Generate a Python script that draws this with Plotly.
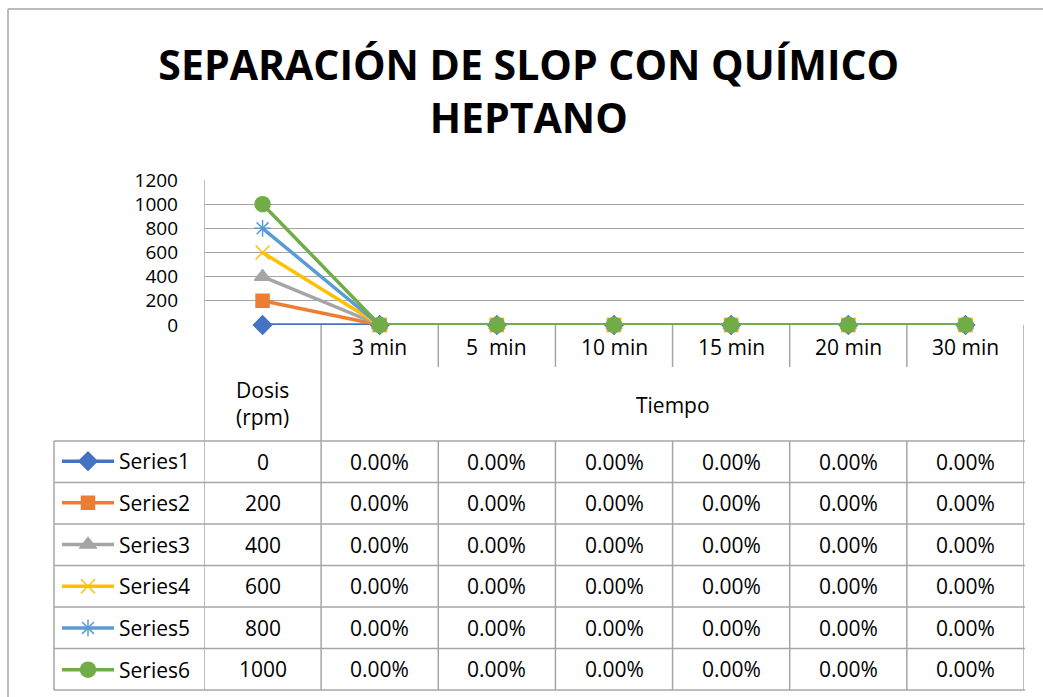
import plotly.graph_objects as go

W, H = 1043, 697

# ---------------- data ----------------
time_labels = ["3 min", "5\u00a0 min", "10 min", "15 min", "20 min", "30 min"]
dosis_header = "Dosis<br>(rpm)"
time_header = "Tiempo"
series_names = ["Series1", "Series2", "Series3", "Series4", "Series5", "Series6"]
dosis = [0, 200, 400, 600, 800, 1000]
series1 = [0, 0, 0, 0, 0, 0, 0]
series2 = [200, 0, 0, 0, 0, 0, 0]
series3 = [400, 0, 0, 0, 0, 0, 0]
series4 = [600, 0, 0, 0, 0, 0, 0]
series5 = [800, 0, 0, 0, 0, 0, 0]
series6 = [1000, 0, 0, 0, 0, 0, 0]
all_series = [series1, series2, series3, series4, series5, series6]
y_ticks = [0, 200, 400, 600, 800, 1000, 1200]

colors = ["#4472C4", "#ED7D31", "#A5A5A5", "#FFC000", "#5B9BD5", "#70AD47"]
symbols = ["diamond", "square", "triangle-up", "x-thin", "asterisk-open", "circle"]
sizes = [14, 13, 14, 14, 14, 15]

FONT = "Open Sans"
GRID = "#A6A6A6"


def px(x):
    return x / W


def py(y):
    return 1 - y / H


PLOT_L, PLOT_R, PLOT_T, PLOT_B = 204, 1024, 180, 325
TABLE_L = 54
ROW_Y = [441, 482.5, 524, 565.5, 607, 648.5, 690]

fig = go.Figure()
xs = list(range(len(time_labels) + 1))
for i, (name, vals) in enumerate(zip(series_names, all_series)):
    fig.add_trace(go.Scatter(
        x=xs, y=vals, name=name, mode="lines+markers",
        legendgroup=name, cliponaxis=False,
        line=dict(color=colors[i], width=3.5),
        marker=dict(symbol=symbols[i], size=sizes[i], color=colors[i],
                    line=dict(color=colors[i], width=1.5)),
    ))

shapes = []
annotations = []
lc = dict(color=GRID, width=1.5)

# outer chart border (left and top)
shapes.append(dict(type="line", xref="paper", yref="paper",
                   x0=px(8), x1=px(8), y0=py(9), y1=py(697), line=lc))
shapes.append(dict(type="line", xref="paper", yref="paper",
                   x0=px(8), x1=px(1043), y0=py(9), y1=py(9), line=lc))

# left axis line extended through table
shapes.append(dict(type="line", xref="x", yref="paper",
                   x0=-0.5, x1=-0.5, y0=py(PLOT_T), y1=py(ROW_Y[-1]), line=lc))
# vertical separators between categories
ncat = len(xs)
for k in range(1, ncat + 1):
    xb = k - 0.5
    if k == 1 or k == ncat:
        shapes.append(dict(type="line", xref="x", yref="paper",
                           x0=xb, x1=xb, y0=py(PLOT_B), y1=py(ROW_Y[-1]), line=lc))
    else:
        shapes.append(dict(type="line", xref="x", yref="paper",
                           x0=xb, x1=xb, y0=py(PLOT_B), y1=py(367), line=lc))
        shapes.append(dict(type="line", xref="x", yref="paper",
                           x0=xb, x1=xb, y0=py(ROW_Y[0]), y1=py(ROW_Y[-1]), line=lc))
# legend column border
shapes.append(dict(type="line", xref="paper", yref="paper",
                   x0=px(TABLE_L), x1=px(TABLE_L), y0=py(ROW_Y[0]), y1=py(ROW_Y[-1]), line=lc))
# horizontal rows
for yy in ROW_Y:
    shapes.append(dict(type="line", xref="paper", yref="paper",
                       x0=px(TABLE_L), x1=px(1025), y0=py(yy), y1=py(yy), line=lc))

tf = dict(family=FONT, size=21, color="#000000")
# time labels
for j, lab in enumerate(time_labels):
    annotations.append(dict(x=j + 1, y=py(347), xref="x", yref="paper", text=lab,
                            showarrow=False, font=tf, xanchor="center", yanchor="middle"))
annotations.append(dict(x=0, y=py(403), xref="x", yref="paper", text=dosis_header,
                        showarrow=False, font=tf, xanchor="center", yanchor="middle"))
annotations.append(dict(x=3.5, y=py(405), xref="x", yref="paper", text=time_header,
                        showarrow=False, font=tf, xanchor="center", yanchor="middle"))
# table values
for i, vals in enumerate(all_series):
    yc = (ROW_Y[i] + ROW_Y[i + 1]) / 2
    annotations.append(dict(x=0, y=py(yc), xref="x", yref="paper", text=str(dosis[i]),
                            showarrow=False, font=tf, xanchor="center", yanchor="middle"))
    for j in range(1, len(vals)):
        annotations.append(dict(x=j, y=py(yc), xref="x", yref="paper",
                                text=f"{vals[j]:.2%}", showarrow=False, font=tf,
                                xanchor="center", yanchor="middle"))

fig.update_layout(
    width=W, height=H,
    margin=dict(l=0, r=0, t=0, b=0, autoexpand=False),
    paper_bgcolor="white", plot_bgcolor="white",
    title=dict(text="SEPARACIÓN DE SLOP CON QUÍMICO<br>HEPTANO",
               x=0.507, xanchor="center", y=py(80), yanchor="middle",
               font=dict(family=FONT, size=41, color="#000000", weight="bold")),
    xaxis=dict(range=[-0.5, ncat - 0.5], domain=[px(PLOT_L), px(PLOT_R)],
               showticklabels=False, showgrid=False, zeroline=False, showline=False,
               fixedrange=True),
    yaxis=dict(range=[0, 1200], domain=[py(PLOT_B), py(PLOT_T)],
               tickvals=y_ticks, ticktext=[str(v) for v in y_ticks],
               showgrid=True, gridcolor=GRID, gridwidth=1.2, zeroline=False,
               showline=False, ticks="", ticklabelstandoff=25,
               tickfont=dict(family=FONT, size=19, color="#000000")),
    showlegend=True,
    legend=dict(x=px(57), y=py(441), xanchor="left", yanchor="top",
                font=dict(family=FONT, size=21, color="#000000"),
                tracegroupgap=11.4, itemwidth=52, bgcolor="rgba(0,0,0,0)",
                traceorder="grouped", itemclick=False),
    shapes=shapes, annotations=annotations,
)

fig.write_html("out.html", config={"displayModeBar": False},
               post_script="document.body.style.margin='0px';")
